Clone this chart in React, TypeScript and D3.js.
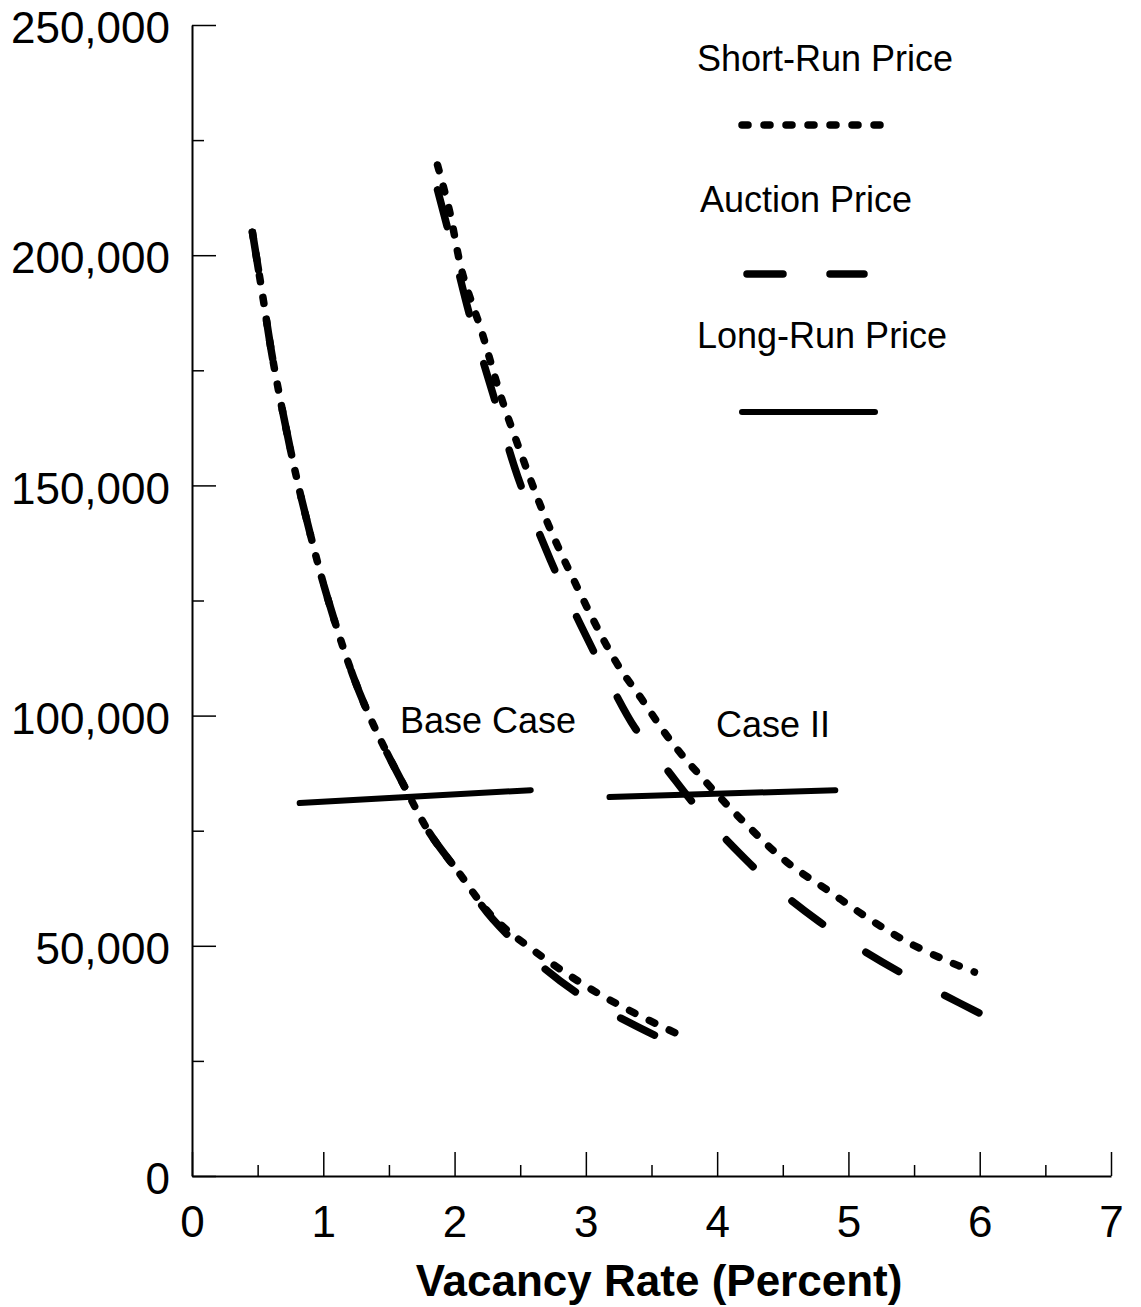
import React, { useEffect, useRef } from 'react';
import * as d3 from 'd3';

// tick values
const xMajor = [0, 1, 2, 3, 4, 5, 6, 7];
const xMinor = [0.5, 1.5, 2.5, 3.5, 4.5, 5.5, 6.5];
const yMajor = [0, 50000, 100000, 150000, 200000, 250000];
const yMinor = [25000, 75000, 125000, 175000, 225000];

// Base case
const baseShortX = [0.46, 0.54, 0.62, 0.77, 0.88, 1.03, 1.23, 1.39, 1.62, 1.81, 2.03, 2.29, 2.63, 3.05, 3.37, 3.68];
const baseShortY = [205000, 190900, 176600, 155100, 141800, 125800, 108400, 97500, 84500, 74500, 66000, 56300, 48400, 40400, 35400, 31100];
const baseAuctionX = [0.46, 0.54, 0.62, 0.77, 0.88, 1.03, 1.23, 1.39, 1.62, 1.81, 2.03, 2.29, 2.70, 2.99, 3.34, 3.63];
const baseAuctionY = [205000, 190900, 176600, 155100, 141800, 125800, 108400, 97500, 84500, 74500, 66000, 55800, 44700, 38700, 33200, 29100];
const baseLongX = [0.82, 2.58];
const baseLongY = [81000, 83800];

// Case II
const case2ShortX = [1.87, 1.96, 2.06, 2.21, 2.35, 2.51, 2.69, 2.9, 3.22, 3.43, 3.66, 3.92, 4.21, 4.53, 4.84, 5.15, 5.45, 5.77, 5.96];
const case2ShortY = [219600, 209800, 196100, 183100, 169600, 156600, 143100, 129900, 112100, 103400, 94000, 85400, 76700, 68200, 62100, 56000, 50800, 46500, 44300];
const case2AuctionX = [1.87, 1.98, 2.12, 2.29, 2.48, 2.73, 2.96, 3.21, 3.37, 3.62, 3.85, 4.16, 4.44, 4.78, 5.07, 5.39, 5.7, 6.06];
const case2AuctionY = [214200, 202200, 186400, 170100, 152000, 133800, 119700, 105600, 97500, 88200, 79900, 70400, 62800, 55200, 49700, 44300, 39700, 34500];
const case2LongX = [3.18, 4.9];
const case2LongY = [82300, 83800];

const FONT = '"Liberation Sans", Arial, sans-serif';
const DOTTED = '6 16';
const DASHED = '38 52';

const zip = (xs: number[], ys: number[]) => xs.map((x, i) => [x, ys[i]] as [number, number]);

const App = () => {
  const ref = useRef<SVGSVGElement>(null);

  useEffect(() => {
    const svg = d3.select(ref.current);
    svg.selectAll('*').remove();

    const width = 1141;
    const height = 1307;
    svg.attr('width', width).attr('height', height);

    const x = d3.scaleLinear().domain([0, 7]).range([192, 1111]);
    const y = d3.scaleLinear().domain([0, 250000]).range([1176, 25]);

    // x axis
    const gx = svg.append('g').attr('transform', `translate(0,${y(0)})`)
      .call(d3.axisBottom(x).tickValues(xMajor).tickSizeInner(-24).tickSizeOuter(0).tickPadding(30).tickFormat(d3.format('d')));
    gx.append('g').call(d3.axisBottom(x).tickValues(xMinor).tickSizeInner(-11).tickSizeOuter(0).tickFormat(() => ''))
      .select('.domain').remove();

    // y axis
    const gy = svg.append('g').attr('transform', `translate(${x(0)},0)`)
      .call(d3.axisLeft(y).tickValues(yMajor).tickSizeInner(-24).tickSizeOuter(0).tickPadding(22).tickFormat(d3.format(',')));
    gy.append('g').call(d3.axisLeft(y).tickValues(yMinor).tickSizeInner(-12).tickSizeOuter(0).tickFormat(() => ''))
      .select('.domain').remove();
    gy.selectAll('.tick text').attr('dy', '0.4em');

    [gx, gy].forEach(g => {
      g.attr('font-family', FONT).attr('font-size', 44);
      g.selectAll('text').attr('fill', '#000');
      g.selectAll('.domain').attr('stroke', '#000').attr('stroke-width', 2);
      g.selectAll('.tick line').attr('stroke', '#000').attr('stroke-width', 1.5);
    });

    svg.append('text')
      .attr('x', 659).attr('y', 1296)
      .attr('text-anchor', 'middle')
      .attr('font-family', FONT).attr('font-size', 44).attr('font-weight', 'bold')
      .text('Vacancy Rate (Percent)');

    const line = d3.line<[number, number]>()
      .x(d => x(d[0]))
      .y(d => y(d[1]))
      .curve(d3.curveCatmullRom.alpha(0.5));

    const series = [
      { data: zip(baseAuctionX, baseAuctionY), dash: DASHED, w: 7.5 },
      { data: zip(baseShortX, baseShortY), dash: DOTTED, w: 7.5 },
      { data: zip(case2AuctionX, case2AuctionY), dash: DASHED, w: 7.5 },
      { data: zip(case2ShortX, case2ShortY), dash: DOTTED, w: 7.5 },
      { data: zip(baseLongX, baseLongY), dash: null, w: 6 },
      { data: zip(case2LongX, case2LongY), dash: null, w: 6 },
    ];

    series.forEach(s => {
      svg.append('path')
        .attr('d', line(s.data))
        .attr('fill', 'none')
        .attr('stroke', '#000')
        .attr('stroke-width', s.w)
        .attr('stroke-linecap', 'round')
        .attr('stroke-dasharray', s.dash);
    });

    // case labels
    const lbl = (tx: number, ty: number, t: string) =>
      svg.append('text').attr('x', tx).attr('y', ty)
        .attr('font-family', FONT).attr('font-size', 36).text(t);
    lbl(400, 733, 'Base Case');
    lbl(716, 737, 'Case II');

    // legend
    const legend = [
      { label: 'Short-Run Price', tx: 697, ty: 71, x1: 742, x2: 884, ly: 125, dash: DOTTED, w: 7.5 },
      { label: 'Auction Price', tx: 700, ty: 212, x1: 747, x2: 864, ly: 274, dash: '36 47', w: 7.5 },
      { label: 'Long-Run Price', tx: 697, ty: 348, x1: 742, x2: 875, ly: 412, dash: null, w: 6 },
    ];
    legend.forEach(l => {
      lbl(l.tx, l.ty, l.label);
      svg.append('line')
        .attr('x1', l.x1).attr('x2', l.x2).attr('y1', l.ly).attr('y2', l.ly)
        .attr('stroke', '#000')
        .attr('stroke-width', l.w)
        .attr('stroke-linecap', 'round')
        .attr('stroke-dasharray', l.dash);
    });
  }, []);

  return (
    <div style={{ position: 'absolute', left: 0, top: 0, background: '#fff' }}>
      <svg ref={ref} style={{ display: 'block' }} />
    </div>
  );
};

export default App;
